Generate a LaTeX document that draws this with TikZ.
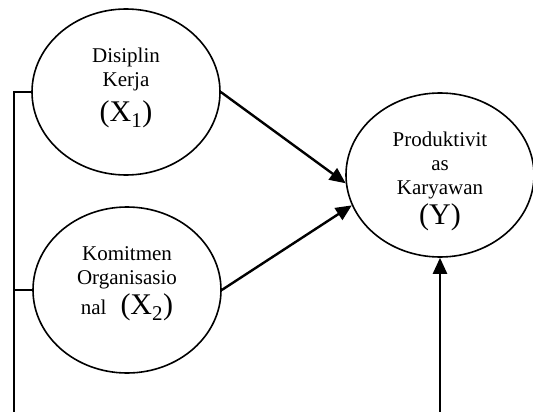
\documentclass[tikz,border=0pt]{standalone}
\usepackage{fontspec}
\setmainfont{Liberation Serif}
\usetikzlibrary{arrows.meta,shapes.geometric}
\newcommand{\besar}{\fontsize{30}{30}\selectfont}

\begin{document}
\begin{tikzpicture}[x=1pt,y=-1pt,>={Triangle[length=16pt,width=14pt]},
  var/.style={draw,ellipse,line width=1.6pt,minimum width=188pt,minimum height=166pt,inner sep=0pt},
  teks/.style={align=center,inner sep=0pt,font=\fontsize{21}{24}\selectfont}]
  \useasboundingbox (0,0) rectangle (533,412);
  \node[var,label={[teks,yshift=4pt]center:Disiplin\\Kerja\\[9pt]\besar (X\textsubscript{1})}] (X1) at (126,92) {};
  \node[var,label={[teks,yshift=6pt]center:Komitmen\\Organisasio\\[4pt]nal\hspace{14pt}{\besar (X\textsubscript{2})}}] (X2) at (127,290) {};
  \node[var,minimum height=164pt,label={[teks,yshift=-6pt]center:Produktivit\\as\\Karyawan\\[3.5pt]\besar (Y)}] (Y) at (440,175) {};
  \coordinate (kiri) at (14,412);
  \coordinate (bawah) at (440,412);
  \draw[line width=1.5pt] (X1.west) -- (kiri|-X1.west) -- (kiri);
  \draw[line width=1.5pt] (X2.west) -- (kiri|-X2.west);
  \draw[->,line width=2.4pt] (X1.east) -- (Y.185);
  \draw[->,line width=2.4pt] (X2.east) -- (Y.199);
  \draw[->,line width=2.4pt] (bawah) -- (Y.south);
\end{tikzpicture}
\end{document}
